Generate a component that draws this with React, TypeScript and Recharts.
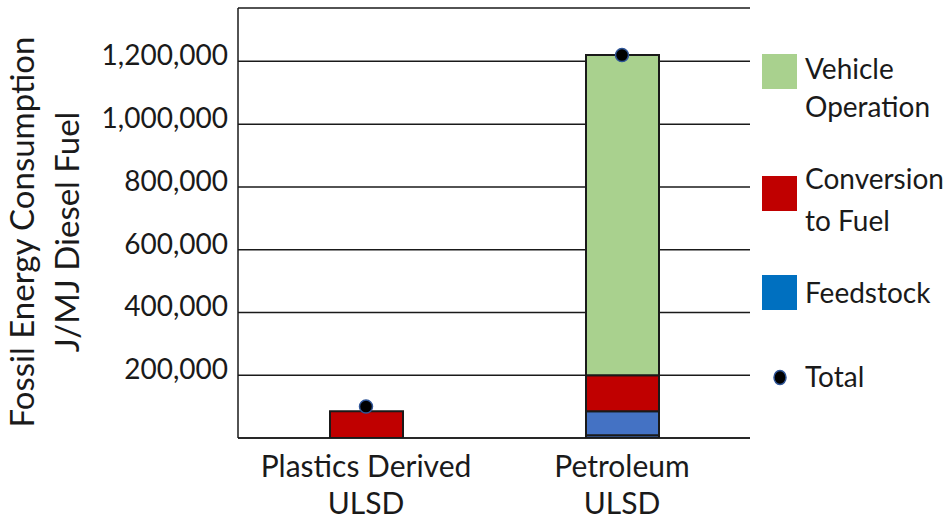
import {
  Bar,
  CartesianGrid,
  ComposedChart,
  Legend,
  Line,
  XAxis,
  YAxis,
} from "recharts";

const catLine1 = ["Plastics Derived", "Petroleum"];
const catLine2 = ["ULSD", "ULSD"];

// feedstock is split in two pieces in the petroleum bar
const feedstockBase = [null, 8600];
const feedstock = [null, 76600];
const conversion = [85000, 114800];
const vehicle = [null, 1020000];
const total = [100000, 1220000];

const yTicks = [200000, 400000, 600000, 800000, 1000000, 1200000];

const legendNames = ["Vehicle|Operation", "Conversion|to Fuel", "Feedstock", "Total"];
const legendColors = ["#A9D18E", "#C00000", "#0070C0", "#000000"];

const FONT = "Lato, 'Open Sans', sans-serif";
const INK = "#1a1a1a";

const data = catLine1.map((c, i) => ({
  cat: c,
  sub: catLine2[i],
  feedstockBase: feedstockBase[i],
  feedstock: feedstock[i],
  conversion: conversion[i],
  vehicle: vehicle[i],
  total: total[i],
}));

const fmt = (v: number) => v.toLocaleString("en-US");

function YTick({ x, y, payload }: any) {
  return (
    <text x={x} y={y - 6} dy="0.355em" textAnchor="end" fontSize={28} fill={INK} fontFamily={FONT}>
      {fmt(payload.value)}
    </text>
  );
}

function XTick({ x, y, payload, index }: any) {
  return (
    <text x={x} y={y} textAnchor="middle" fontSize={30} fill={INK} fontFamily={FONT}>
      <tspan x={x} dy={31}>{payload.value}</tspan>
      <tspan x={x} dy={37}>{catLine2[index]}</tspan>
    </text>
  );
}

function YTitle() {
  return (
    <text
      transform="translate(22,232) rotate(-90)"
      textAnchor="middle"
      fontSize={33}
      fill={INK}
      fontFamily={FONT}
    >
      <tspan x={0} dy="0.355em">Fossil Energy Consumption</tspan>
      <tspan x={0} dy={45}>J/MJ Diesel Fuel</tspan>
    </text>
  );
}

function LegendBox() {
  // square / dot tops and text baselines, in page pixels
  const markTops = [54, 176, 275, 371];
  const baselines = [[79, 117], [189, 231], [303], [387]];
  return (
    <svg width={183} height={420} style={{ display: "block" }}>
      {legendNames.map((n, i) => {
        const lines = n.split("|");
        const isDot = i === legendNames.length - 1;
        return (
          <g key={n}>
            {isDot ? (
              <ellipse cx={18} cy={markTops[i] + 6.5} rx={6} ry={7} fill={legendColors[i]} stroke="#2F5597" strokeWidth={1.5} />
            ) : (
              <rect x={0} y={markTops[i]} width={35} height={35} fill={legendColors[i]} />
            )}
            {lines.map((l, j) => (
              <text key={l} x={43} y={baselines[i][j]} fontSize={28} fill={INK} fontFamily={FONT}>
                {l}
              </text>
            ))}
          </g>
        );
      })}
    </svg>
  );
}

export default function App() {
  return (
    <div style={{ position: "absolute", left: 0, top: 0, width: 945, height: 521, background: "#fff" }}>
      <ComposedChart
        width={945}
        height={521}
        data={data}
        margin={{ top: 8, right: 195, left: 0, bottom: 0 }}
        barCategoryGap="35.7%"
      >
        <CartesianGrid horizontal vertical={false} stroke={INK} strokeWidth={1.5} />
        <XAxis
          dataKey="cat"
          tick={<XTick />}
          tickLine={false}
          axisLine={{ stroke: INK, strokeWidth: 1.5 }}
          height={83}
          interval={0}
        />
        <XAxis
          xAxisId="top"
          dataKey="cat"
          orientation="top"
          tick={false}
          tickLine={false}
          axisLine={{ stroke: INK, strokeWidth: 1.5 }}
          height={0}
        />
        <YAxis
          domain={[0, 1370000]}
          ticks={yTicks}
          tick={<YTick />}
          tickLine={false}
          tickSize={0}
          tickMargin={10}
          axisLine={{ stroke: INK, strokeWidth: 1.5 }}
          width={238}
          allowDataOverflow
          label={<YTitle />}
        />
        <YAxis
          yAxisId="right"
          orientation="right"
          tick={false}
          tickLine={false}
          axisLine={{ stroke: INK, strokeWidth: 1.5 }}
          width={0}
        />
        <Bar dataKey="feedstockBase" stackId="a" fill="#4472C4" stroke={INK} strokeWidth={2} barSize={73} isAnimationActive={false} />
        <Bar dataKey="feedstock" stackId="a" fill="#4472C4" stroke={INK} strokeWidth={2} barSize={73} isAnimationActive={false} />
        <Bar dataKey="conversion" stackId="a" fill="#C00000" stroke={INK} strokeWidth={2} barSize={73} isAnimationActive={false} />
        <Bar dataKey="vehicle" stackId="a" fill="#A9D18E" stroke={INK} strokeWidth={2} barSize={73} isAnimationActive={false} />
        <Line
          dataKey="total"
          stroke="none"
          strokeWidth={0}
          dot={{ r: 6.5, fill: "#000", stroke: "#2F5597", strokeWidth: 1.5 }}
          activeDot={false}
          isAnimationActive={false}
        />
        <Legend
          layout="horizontal"
          verticalAlign="middle"
          align="center"
          content={<LegendBox />}
          wrapperStyle={{ position: "absolute", left: 762, top: 0, width: 183 }}
        />
      </ComposedChart>
    </div>
  );
}
